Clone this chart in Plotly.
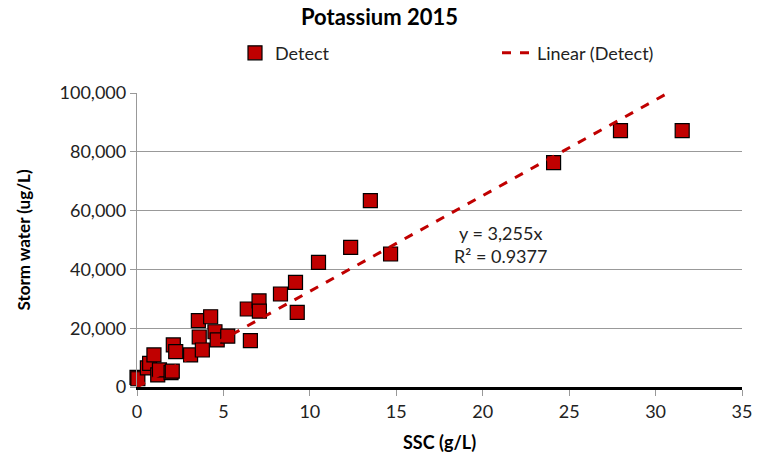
import plotly.graph_objects as go

# Data
ssc = [0.0, 0.05, 0.6, 0.73, 0.98, 1.2, 1.3, 1.97, 2.04, 2.1, 2.24, 3.1, 3.55,
       3.6, 3.78, 4.26, 4.51, 4.64, 5.25, 6.38, 6.56, 7.06, 7.08, 8.3, 9.17,
       9.27, 10.5, 12.36, 13.5, 14.67, 24.1, 27.97, 31.54]
storm = [3300, 2800, 6500, 8060, 10900, 4100, 5800, 4900, 5400, 14300, 12000,
         10900, 22550, 17000, 12580, 23900, 18800, 16000, 17300, 26530, 15750,
         29300, 25800, 31630, 35600, 25400, 42400, 47500, 63370, 45240, 76300,
         87180, 87180]
slope = 3255
r2_text = "0.9377"
x_ticks = [0, 5, 10, 15, 20, 25, 30, 35]
y_ticks = [0, 20000, 40000, 60000, 80000, 100000]

trend_x = [0, max(ssc)]
trend_y = [slope * v for v in trend_x]

FONT = "Lato"
RED = "#C00000"

fig = go.Figure()
fig.add_trace(go.Scatter(
    x=ssc, y=storm, mode="markers", name="Detect",
    marker=dict(symbol="square", size=14, color=RED, line=dict(color="black", width=1.2)),
    cliponaxis=False,
))
fig.add_trace(go.Scatter(
    x=trend_x, y=trend_y, mode="lines", name="Linear (Detect)",
    line=dict(color=RED, width=3, dash="dash"),
))

fig.add_annotation(
    x=21, y=48600, xref="x", yref="y",
    text=f"y = {slope:,}x<br>R² = {r2_text}",
    showarrow=False, font=dict(family=FONT, size=18, color="#222"),
    align="center",
)

fig.update_layout(
    width=759, height=461,
    margin=dict(l=137, r=17, t=93, b=74),
    paper_bgcolor="white", plot_bgcolor="white",
    font=dict(family=FONT, size=17, color="#222"),
    title=dict(text="<b>Potassium 2015</b>", x=0.5, xanchor="center",
               y=0.962, yanchor="middle", font=dict(family=FONT, size=22, color="black")),
    legend=dict(orientation="h", x=0.347, xanchor="left", y=0.925, yanchor="top",
                yref="container", entrywidth=217, entrywidthmode="pixels",
                font=dict(family=FONT, size=18, color="#222"), bgcolor="rgba(0,0,0,0)"),
    showlegend=True,
)

fig.update_xaxes(
    range=[0, 35], tickvals=x_ticks, showgrid=False, zeroline=False, automargin=False,
    showline=True, linecolor="black", linewidth=3,
    ticks="outside", ticklen=6, tickcolor="#999", tickwidth=1,
    title=dict(text="<b>SSC (g/L)</b>", font=dict(family=FONT, size=18, color="black"), standoff=16),
    tickfont=dict(family=FONT, size=18, color="#222"),
)
fig.update_yaxes(
    range=[0, 100000], tickvals=y_ticks, tickformat=",d", automargin=False,
    showgrid=True, gridcolor="#999", gridwidth=1.3, zeroline=False,
    showline=True, linecolor="#999", linewidth=1.3,
    ticks="outside", ticklen=6, tickcolor="#999",
    title=dict(text="<b>Storm water (ug/L)</b>", font=dict(family=FONT, size=17, color="black"), standoff=24),
    tickfont=dict(family=FONT, size=18, color="#222"),
)

fig.write_html("out.html", config={"displayModeBar": False},
               post_script="document.body.style.margin='0';")
